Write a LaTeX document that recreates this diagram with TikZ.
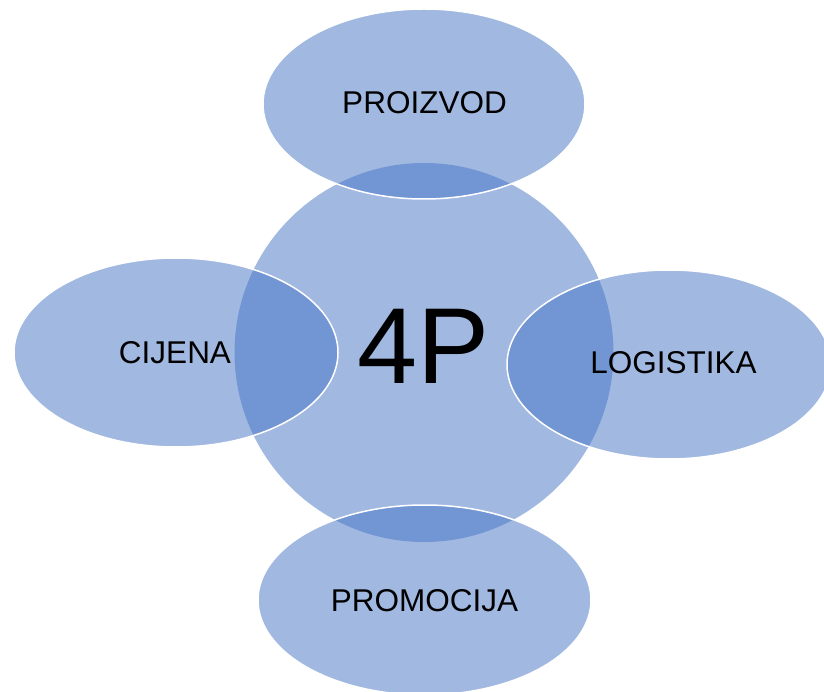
\documentclass[tikz,border=0pt]{standalone}
\usepackage{fontspec}
\setmainfont{Liberation Sans}
\usetikzlibrary{shapes.geometric}
\definecolor{accent}{HTML}{4472C4}
\begin{document}
\begin{tikzpicture}[x=1pt,y=-1pt,
  blob/.style={ellipse, inner sep=0pt, outer sep=0pt, fill=accent, fill opacity=0.5, draw=white, line width=1.5pt},
  hub/.style={circle, inner sep=0pt, outer sep=0pt, fill=accent, fill opacity=0.5, minimum size=379pt},
  lbl/.style={font=\fontsize{31.5}{36}\selectfont, text=black, inner sep=0pt}]
\useasboundingbox (0,0) rectangle (824,692);
\clip (0,0) rectangle (824,692);
\node[hub] (hub) at (424,352.5) {};
\node[blob, minimum width=322pt, minimum height=190pt] (top) at (424,104) {};
\node[blob, minimum width=324pt, minimum height=189pt] (left) at (176,352.5) {};
\node[blob, minimum width=324pt, minimum height=189pt] (right) at (669,364.5) {};
\node[blob, minimum width=333pt, minimum height=190pt] (bottom) at (424.5,600) {};
\node[lbl] (ltop) at (424.5,102.5) {PROIZVOD};
\node[lbl] (lleft) at (175,352.5) {CIJENA};
\node[lbl] (lright) at (673.5,363) {LOGISTIKA};
\node[lbl] (lbottom) at (424.5,601) {PROMOCIJA};
\node[font=\fontsize{108}{120}\selectfont, text=black, inner sep=0pt] (lhub) at (423.5,346.5) {4P};
\end{tikzpicture}
\end{document}
